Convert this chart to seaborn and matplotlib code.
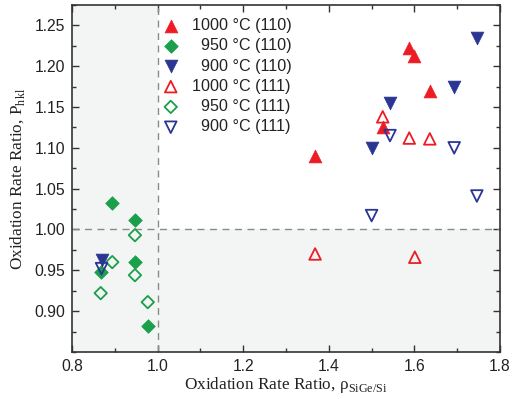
import numpy as np
import pandas as pd
import seaborn as sns
import matplotlib
matplotlib.use("Agg")
import matplotlib.pyplot as plt
from matplotlib.ticker import MultipleLocator, FormatStrFormatter

# Oxidation rate ratio rho_SiGe/Si (x) and orientation ratio P_hkl (y)
x_1000_110 = [1.368, 1.587, 1.599, 1.636, 1.527]
y_1000_110 = [1.090, 1.222, 1.212, 1.170, 1.126]

x_950_110 = [0.893, 0.947, 0.947, 0.867, 0.977]
y_950_110 = [1.033, 1.011, 0.960, 0.948, 0.882]

x_900_110 = [1.746, 1.693, 1.543, 1.500, 0.869]
y_900_110 = [1.234, 1.175, 1.155, 1.100, 0.962]

x_1000_111 = [1.526, 1.588, 1.636, 1.368, 1.601]
y_1000_111 = [1.138, 1.112, 1.111, 0.970, 0.966]

x_950_111 = [0.947, 0.894, 0.947, 0.867, 0.977]
y_950_111 = [0.993, 0.960, 0.944, 0.922, 0.911]

x_900_111 = [1.543, 1.693, 1.500, 1.746, 0.869]
y_900_111 = [1.115, 1.100, 1.017, 1.041, 0.952]

labels = ["1000 °C (110)", "\u2007950 °C (110)", "\u2007900 °C (110)",
          "1000 °C (111)", "\u2007950 °C (111)", "\u2007900 °C (111)"]

RED, GREEN, BLUE = "#ed1c24", "#1a9f4a", "#2b3592"

series = [
    (x_1000_110, y_1000_110, labels[0], "^", RED, True, 85),
    (x_950_110, y_950_110, labels[1], "D", GREEN, True, 48),
    (x_900_110, y_900_110, labels[2], "v", BLUE, True, 85),
    (x_1000_111, y_1000_111, labels[3], "^", RED, False, 70),
    (x_950_111, y_950_111, labels[4], "D", GREEN, False, 40),
    (x_900_111, y_900_111, labels[5], "v", BLUE, False, 70),
]

sns.set_theme(style="white")
plt.rcParams["font.family"] = ["Liberation Sans", "DejaVu Sans"]

fig = plt.figure(figsize=(5.20, 3.99), dpi=100)
ax = fig.add_axes([0.1385, 0.118, 0.8230, 0.8695])

shade = "#f3f4f4"
ax.axvspan(0.8, 1.0, color=shade, lw=0, zorder=0)
ax.axhspan(0.85, 1.0, color=shade, lw=0, zorder=0)
ax.axvline(1.0, color="#8a8a8a", ls=(0, (5, 4)), lw=1.0, zorder=1)
ax.axhline(1.0, color="#8a8a8a", ls=(0, (5, 4)), lw=1.0, zorder=1)

for xs, ys, lab, mk, col, filled, size in series:
    df = pd.DataFrame({"x": xs, "y": ys})
    if filled:
        sns.scatterplot(data=df, x="x", y="y", ax=ax, marker=mk, s=size,
                        color=col, edgecolor=col, linewidth=0.5, label=lab,
                        zorder=3)
    else:
        sns.scatterplot(data=df, x="x", y="y", ax=ax, marker=mk, s=size,
                        facecolor="none", edgecolor=col, linewidth=1.3,
                        label=lab, zorder=3)

ax.set_xlim(0.8, 1.8)
ax.set_ylim(0.85, 1.275)
ax.xaxis.set_major_locator(MultipleLocator(0.2))
ax.xaxis.set_minor_locator(MultipleLocator(0.1))
ax.xaxis.set_major_formatter(FormatStrFormatter("%.1f"))
ax.set_yticks([0.90, 0.95, 1.00, 1.05, 1.10, 1.15, 1.20, 1.25])
ax.yaxis.set_minor_locator(MultipleLocator(0.025))
ax.yaxis.set_major_formatter(FormatStrFormatter("%.2f"))

for sp in ax.spines.values():
    sp.set_color("#333333")
    sp.set_linewidth(1.2)
ax.tick_params(which="both", direction="in", top=True, right=True,
               bottom=True, left=True, color="#333333", labelsize=11.3,
               labelcolor="#222222")
ax.tick_params(which="major", length=5, width=1.0, pad=5)
ax.tick_params(which="minor", length=3, width=1.0)

serif = ["Liberation Serif", "DejaVu Serif"]
ax.set_xlabel(r"Oxidation Rate Ratio, ρ$_\mathregular{SiGe/Si}$",
              family=serif, fontsize=12.4, color="#222222", labelpad=1)
ax.set_ylabel(r"Oxidation Rate Ratio, P$_\mathregular{hkl}$",
              family=serif, fontsize=12.4, color="#222222", labelpad=5)

leg = ax.legend(loc="upper left", bbox_to_anchor=(0.178, 1.0), frameon=False,
                fontsize=11.6, handletextpad=0.7, labelspacing=0.33,
                borderaxespad=0.4, handlelength=1.2)
for t in leg.get_texts():
    t.set_color("#222222")

fig.savefig("out.png", dpi=100)
